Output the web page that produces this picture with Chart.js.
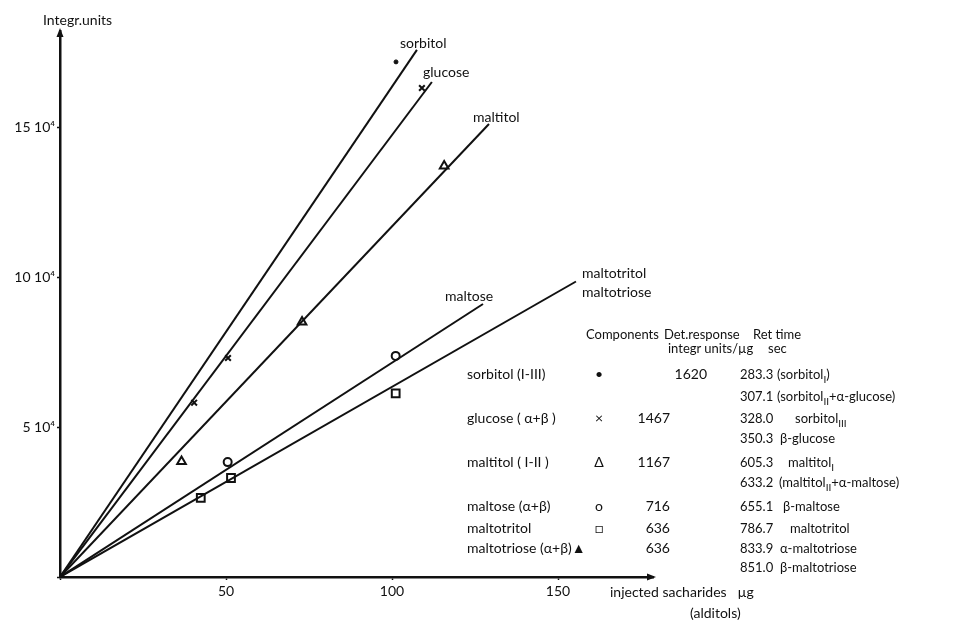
<!DOCTYPE html>
<html>
<head>
<meta charset="utf-8">
<title>Detector response</title>
<script src="https://cdn.jsdelivr.net/npm/chart.js@4.4.0/dist/chart.umd.min.js"></script>
<style>
  html, body { margin: 0; padding: 0; background: #fff; }
  #wrap { position: relative; width: 960px; height: 621px; overflow: hidden;
          font-family: Lato, "Liberation Sans", sans-serif; font-size: 14px; color: #111; }
  #chart { position: absolute; left: 0; top: 0; }
  .t { position: absolute; white-space: nowrap; line-height: 16px; }
  .s { font-size: 13px; }
  .r { text-align: right; }
  .c { text-align: center; width: 14px; }
  .lbl2 { line-height: 19px; }
  sub { font-size: 10px; line-height: 0; }
</style>
</head>
<body>
<div id="wrap">
  <canvas id="chart" width="960" height="621"></canvas>

  <!-- axis titles -->
  <div class="t" style="left:43px; top:12px;">Integr.units</div>
  <div class="t" style="left:610px; top:584px;">injected sacharides &nbsp;&nbsp;µg</div>
  <div class="t" style="left:690px; top:605px;">(alditols)</div>

  <!-- table header -->
  <div class="t s" style="left:586px; top:326px;">Components</div>
  <div class="t s" style="left:664px; top:326px;">Det.response</div>
  <div class="t s" style="left:668px; top:340px;">integr units/µg</div>
  <div class="t s" style="left:753px; top:326px;">Ret time</div>
  <div class="t s" style="left:768px; top:340px;">sec</div>

  <!-- table body -->
  <div class="t" style="left:467px; top:366px;">sorbitol (I-III)</div>
  <div class="t c" style="left:592px; top:366px;">•</div>
  <div class="t r" style="right:253px; top:366px;">1620</div>

  <div class="t" style="left:467px; top:410px;">glucose ( α+β )</div>
  <div class="t c" style="left:592px; top:410px;">×</div>
  <div class="t r" style="right:290px; top:410px;">1467</div>

  <div class="t" style="left:467px; top:454px;">maltitol ( I-II )</div>
  <div class="t c" style="left:592px; top:454px;">Δ</div>
  <div class="t r" style="right:290px; top:454px;">1167</div>

  <div class="t" style="left:467px; top:498px;">maltose (α+β)</div>
  <div class="t c" style="left:592px; top:498px;">o</div>
  <div class="t r" style="right:290px; top:498px;">716</div>

  <div class="t" style="left:467px; top:520px;">maltotritol</div>
  <div class="t c" style="left:592px; top:520px;">□</div>
  <div class="t r" style="right:290px; top:520px;">636</div>

  <div class="t" style="left:467px; top:540px;">maltotriose (α+β)▲</div>
  <div class="t r" style="right:290px; top:540px;">636</div>

  <!-- retention times -->
  <div class="t s" style="left:740px; top:366px;">283.3</div>
  <div class="t s" style="left:777px; top:366px;">(sorbitol<sub>I</sub>)</div>
  <div class="t s" style="left:740px; top:388px;">307.1</div>
  <div class="t s" style="left:777px; top:388px;">(sorbitol<sub>II</sub>+α-glucose)</div>
  <div class="t s" style="left:740px; top:410px;">328.0</div>
  <div class="t s" style="left:795px; top:410px;">sorbitol<sub>III</sub></div>
  <div class="t s" style="left:740px; top:430px;">350.3</div>
  <div class="t s" style="left:780px; top:430px;">β-glucose</div>
  <div class="t s" style="left:740px; top:454px;">605.3</div>
  <div class="t s" style="left:788px; top:454px;">maltitol<sub>I</sub></div>
  <div class="t s" style="left:740px; top:474px;">633.2</div>
  <div class="t s" style="left:779px; top:474px;">(maltitol<sub>II</sub>+α-maltose)</div>
  <div class="t s" style="left:740px; top:498px;">655.1</div>
  <div class="t s" style="left:783px; top:498px;">β-maltose</div>
  <div class="t s" style="left:740px; top:520px;">786.7</div>
  <div class="t s" style="left:790px; top:520px;">maltotritol</div>
  <div class="t s" style="left:740px; top:540px;">833.9</div>
  <div class="t s" style="left:780px; top:540px;">α-maltotriose</div>
  <div class="t s" style="left:740px; top:559px;">851.0</div>
  <div class="t s" style="left:780px; top:559px;">β-maltotriose</div>
</div>

<script>
// measured points (µg injected, integrator units)
const sorbitolX = [101.2];
const sorbitolY = [171700];
const glucoseX = [40.4, 50.6, 109.0];
const glucoseY = [58100, 73000, 163000];
const maltitolX = [36.6, 72.9, 115.7];
const maltitolY = [38500, 85000, 137000];
const maltoseX = [50.5, 101.1];
const maltoseY = [38300, 73700];
const maltotritolX = [42.4, 51.5, 101.1];
const maltotritolY = [26400, 33000, 61200];

// calibration lines, drawn from the origin to where they stop in the figure
const lineNames = ['sorbitol', 'glucose', 'maltitol', 'maltose', 'maltotritol<br>maltotriose'];
const lineEndX = [107.5, 112.0, 129.2, 127.4, 155.4];
const lineEndY = [175700, 165000, 151000, 91000, 98500];

// axes
const xTicks = [50, 100, 150];
const yTicks = [50000, 100000, 150000];
const xMax = 178.6;
const yMax = 182000;

// label offset from the end of each line (px)
const labelShift = [[-17, -15], [-9, -18], [-16, -15], [-38, -16], [6, -19]];

Chart.defaults.font.family = 'Lato, "Liberation Sans", sans-serif';
Chart.defaults.font.size = 14;
Chart.defaults.color = '#111';

function toPoints(xs, ys) {
    return xs.map((x, i) => ({ x: x, y: ys[i] }));
}

const lineSets = lineNames.map((name, i) => ({
    label: name,
    data: [{ x: 0, y: 0 }, { x: lineEndX[i], y: lineEndY[i] }],
    showLine: true,
    borderColor: '#111',
    borderWidth: 2,
    pointRadius: 0,
    tension: 0,
    order: 2
}));

const markerSets = [
    { label: 'sorbitol pts', data: toPoints(sorbitolX, sorbitolY), pointStyle: 'circle', pointRadius: 2, backgroundColor: '#111', borderColor: '#111' },
    { label: 'glucose pts', data: toPoints(glucoseX, glucoseY), pointStyle: 'crossRot', pointRadius: 4, borderWidth: 2, borderColor: '#111' },
    { label: 'maltitol pts', data: toPoints(maltitolX, maltitolY), pointStyle: 'triangle', pointRadius: 5, borderWidth: 2, borderColor: '#111', backgroundColor: 'rgba(0,0,0,0)' },
    { label: 'maltose pts', data: toPoints(maltoseX, maltoseY), pointStyle: 'circle', pointRadius: 4, borderWidth: 2, borderColor: '#111', backgroundColor: 'rgba(0,0,0,0)' },
    { label: 'maltotritol pts', data: toPoints(maltotritolX, maltotritolY), pointStyle: 'rect', pointRadius: 5.5, borderWidth: 2, borderColor: '#111', backgroundColor: 'rgba(0,0,0,0)' }
].map(d => Object.assign({ order: 1 }, d));

// arrow heads on both axes
const axisArrows = {
    id: 'axisArrows',
    afterDraw(chart) {
        const { ctx, chartArea: a } = chart;
        ctx.save();
        ctx.fillStyle = '#111';
        ctx.beginPath();
        ctx.moveTo(a.left, a.top - 3);
        ctx.lineTo(a.left - 3.5, a.top + 6);
        ctx.lineTo(a.left + 3.5, a.top + 6);
        ctx.closePath();
        ctx.fill();
        ctx.beginPath();
        ctx.moveTo(a.right + 3, a.bottom);
        ctx.lineTo(a.right - 6, a.bottom - 3.5);
        ctx.lineTo(a.right - 6, a.bottom + 3.5);
        ctx.closePath();
        ctx.fill();
        ctx.restore();
    }
};

const chart = new Chart(document.getElementById('chart'), {
    type: 'scatter',
    data: { datasets: lineSets.concat(markerSets) },
    options: {
        responsive: false,
        animation: false,
        layout: { padding: { left: 0, top: 31, right: 307, bottom: 0 } },
        plugins: { legend: { display: false }, tooltip: { enabled: false } },
        scales: {
            x: {
                type: 'linear',
                min: 0,
                max: xMax,
                afterFit: s => { s.height = 44; },
                afterBuildTicks: s => { s.ticks = [0].concat(xTicks).map(v => ({ value: v })); },
                ticks: {
                    padding: 3,
                    callback: v => (v === 0 ? '' : v)
                },
                grid: { drawOnChartArea: false, color: '#111', tickLength: 3, tickWidth: 1.5 },
                border: { display: true, color: '#111', width: 2.5 }
            },
            y: {
                type: 'linear',
                min: 0,
                max: yMax,
                afterFit: s => { s.width = 60; },
                afterBuildTicks: s => { s.ticks = [0].concat(yTicks).map(v => ({ value: v })); },
                ticks: {
                    padding: 2,
                    callback: v => (v === 0 ? '' : (v / 10000) + ' 10⁴')
                },
                grid: { drawOnChartArea: false, color: '#111', tickLength: 3, tickWidth: 1.5 },
                border: { display: true, color: '#111', width: 2.5 }
            }
        }
    },
    plugins: [axisArrows]
});

// put the curve names next to the line ends
const wrap = document.getElementById('wrap');
lineNames.forEach((name, i) => {
    const px = chart.scales.x.getPixelForValue(lineEndX[i]);
    const py = chart.scales.y.getPixelForValue(lineEndY[i]);
    const el = document.createElement('div');
    el.className = 't' + (name.includes('<br>') ? ' lbl2' : '');
    el.innerHTML = name;
    el.style.left = Math.round(px + labelShift[i][0]) + 'px';
    el.style.top = Math.round(py + labelShift[i][1]) + 'px';
    wrap.appendChild(el);
});
</script>
</body>
</html>
